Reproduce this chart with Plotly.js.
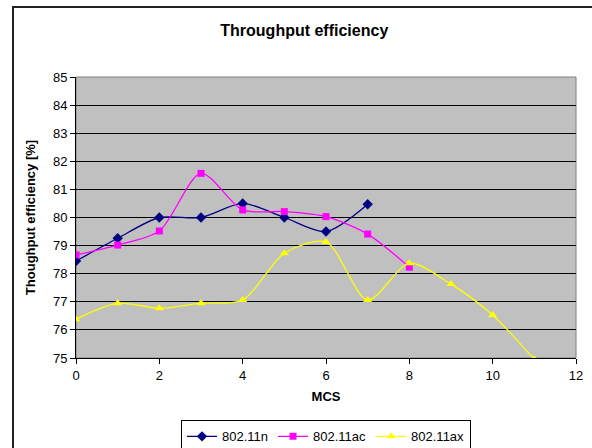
<!DOCTYPE html>
<html>
<head>
<meta charset="utf-8">
<script src="https://cdn.plot.ly/plotly-3.0.1.min.js"></script>
<style>html,body{margin:0;padding:0;background:#fff;}#chart{width:592px;height:448px;}</style>
</head>
<body>
<div id="chart"></div>
<script>
var mcsN = [0, 1, 2, 3, 4, 5, 6, 7];
var effN = [78.45, 79.26, 80.0, 80.0, 80.5, 80.0, 79.5, 80.47];
var mcsAC = [0, 1, 2, 3, 4, 5, 6, 7, 8];
var effAC = [78.67, 79.02, 79.52, 81.57, 80.27, 80.21, 80.03, 79.41, 78.23];
var mcsAX = [0, 1, 2, 3, 4, 5, 6, 7, 8, 9, 10, 11];
var effAX = [76.38, 76.95, 76.77, 76.95, 77.06, 78.73, 79.13, 77.06, 78.37, 77.63, 76.53, 74.95];
var seriesNames = ["802.11n", "802.11ac", "802.11ax"];
var xTicks = [0, 2, 4, 6, 8, 10, 12];
var yTicks = [75, 76, 77, 78, 79, 80, 81, 82, 83, 84, 85];

var font = "Liberation Sans, Arial, sans-serif";
var traces = [
  {x: mcsN, y: effN, name: seriesNames[0], mode: "lines+markers",
   line: {color: "#000080", width: 1.3, shape: "spline", smoothing: 0.8},
   marker: {symbol: "diamond", size: 8, color: "#000080"}},
  {x: mcsAC, y: effAC, name: seriesNames[1], mode: "lines+markers",
   line: {color: "#FF00FF", width: 1.3, shape: "spline", smoothing: 0.8},
   marker: {symbol: "square", size: 7, color: "#FF00FF"}},
  {x: mcsAX, y: effAX, name: seriesNames[2], mode: "lines+markers",
   line: {color: "#FFFF00", width: 1.3, shape: "spline", smoothing: 0.8},
   marker: {symbol: "triangle-up", size: 8, color: "#FFFF00"}}
];

var layout = {
  width: 592, height: 448,
  margin: {l: 76, r: 16, t: 77, b: 90, autoexpand: false},
  paper_bgcolor: "#ffffff",
  plot_bgcolor: "#C0C0C0",
  font: {family: font, size: 13, color: "#000"},
  title: {text: "<b>Throughput efficiency</b>", font: {family: font, size: 16, color: "#000"},
          xref: "container", x: 0.514, xanchor: "center", yref: "container", y: 0.933, yanchor: "middle"},
  showlegend: true,
  legend: {orientation: "h", x: 0.5, xanchor: "center", y: -0.222, yanchor: "top",
           bordercolor: "#000", borderwidth: 1, bgcolor: "#fff",
           font: {family: font, size: 13}, itemwidth: 30, tracegroupgap: 0},
  xaxis: {range: [0, 12], tickvals: xTicks, ticks: "outside", ticklen: 5, tickcolor: "#000",
          showgrid: false, zeroline: false, showline: true, linecolor: "#000", linewidth: 1,
          title: {text: "<b>MCS</b>", font: {family: font, size: 13}, standoff: 10},
          tickfont: {family: font, size: 13}, fixedrange: true},
  yaxis: {range: [75, 85], tickvals: yTicks, ticks: "outside", ticklen: 5, tickcolor: "#000",
          showgrid: true, gridcolor: "#000", gridwidth: 1, zeroline: false,
          showline: true, linecolor: "#000", linewidth: 1,
          title: {text: "<b>Thoughput efficiency [%]</b>", font: {family: font, size: 13}, standoff: 14},
          tickfont: {family: font, size: 13}, fixedrange: true},
  shapes: [
    {type: "rect", xref: "paper", yref: "paper", x0: 0, x1: 1, y0: 0, y1: 1,
     line: {color: "#808080", width: 1}, layer: "below"},
    {type: "rect", xref: "paper", yref: "paper", x0: -0.126, x1: 1.1, y0: -0.4, y1: 1.249,
     line: {color: "#222", width: 2}, fillcolor: "rgba(0,0,0,0)"}
  ]
};

Plotly.newPlot("chart", traces, layout, {displayModeBar: false, staticPlot: true});
</script>
</body>
</html>
